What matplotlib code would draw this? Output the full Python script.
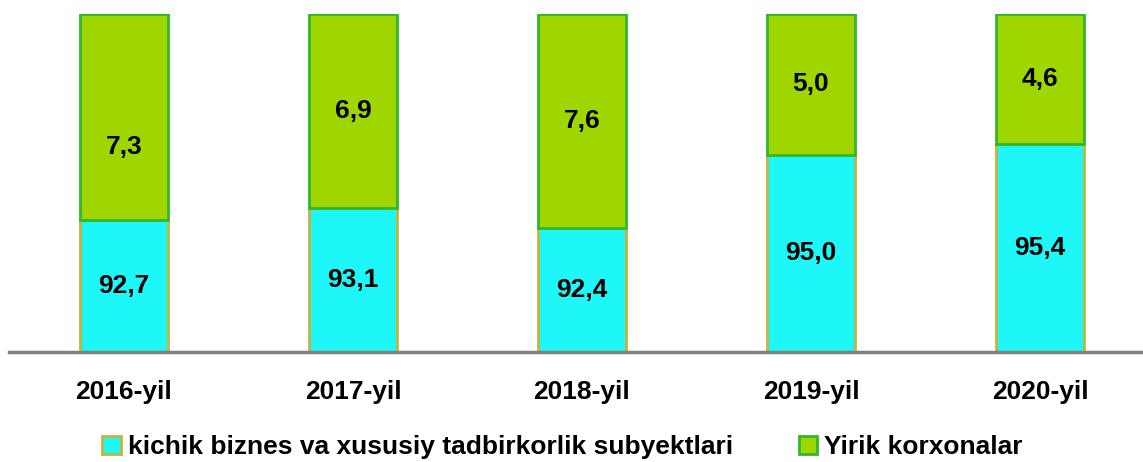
import numpy as np
import matplotlib.pyplot as plt
from matplotlib.patches import Patch

plt.rcParams['font.family'] = ['Liberation Sans', 'DejaVu Sans']

years = ['2016-yil', '2017-yil', '2018-yil', '2019-yil', '2020-yil']
small_biz = [92.7, 93.1, 92.4, 95.0, 95.4]
large_ent = [7.3, 6.9, 7.6, 5.0, 4.6]
small_lbl = ['92,7', '93,1', '92,4', '95,0', '95,4']
large_lbl = ['7,3', '6,9', '7,6', '5,0', '4,6']

cyan_face, cyan_edge = '#1EF7F7', '#C4B43A'
green_face, green_edge = '#9FD600', '#2EB82E'

fig = plt.figure(figsize=(11.43, 4.62), dpi=100)
ax = fig.add_axes([9 / 1143, 110 / 462, 1 - 9 / 1143, 338 / 462])

x = np.arange(len(years))
ymin = 88
w = 0.385
ax.bar(x, np.array(small_biz) - ymin, bottom=ymin, width=w, color=cyan_face,
       edgecolor=cyan_edge, linewidth=2)
ax.bar(x, large_ent, bottom=small_biz, width=w, color=green_face,
       edgecolor=green_edge, linewidth=2)

# the first green label sits a bit lower in the original
green_shift = [-22, 0, 0, 0, 0]  # points

for i in range(len(years)):
    ax.text(x[i], (ymin + small_biz[i]) / 2, small_lbl[i], ha='center', va='center',
            fontsize=19, fontweight='bold')
    ax.annotate(large_lbl[i], (x[i], small_biz[i] + large_ent[i] / 2),
                xytext=(0, green_shift[i]), textcoords='offset points',
                ha='center', va='center', fontsize=19, fontweight='bold')

ax.set_ylim(ymin, 100)
ax.set_xlim(-0.502, 4.45)
ax.set_xticks(x)
ax.set_xticklabels(years, fontsize=19, fontweight='bold')
ax.tick_params(axis='x', length=0, pad=20)
ax.set_yticks([])
for s in ['top', 'right', 'left']:
    ax.spines[s].set_visible(False)
ax.spines['bottom'].set_color('#808080')
ax.spines['bottom'].set_linewidth(2.5)

handles = [Patch(facecolor=cyan_face, edgecolor=cyan_edge, linewidth=2),
           Patch(facecolor=green_face, edgecolor=green_edge, linewidth=2)]
fig.legend(handles, ['kichik biznes va xususiy tadbirkorlik subyektlari', 'Yirik korxonalar'],
           loc='center', bbox_to_anchor=(0.492, 0.032), ncol=2, frameon=False,
           prop={'size': 19, 'weight': 'bold'}, handlelength=0.7, handleheight=0.7,
           handletextpad=0.25, columnspacing=2.5)

fig.savefig('out.png', dpi=100)
